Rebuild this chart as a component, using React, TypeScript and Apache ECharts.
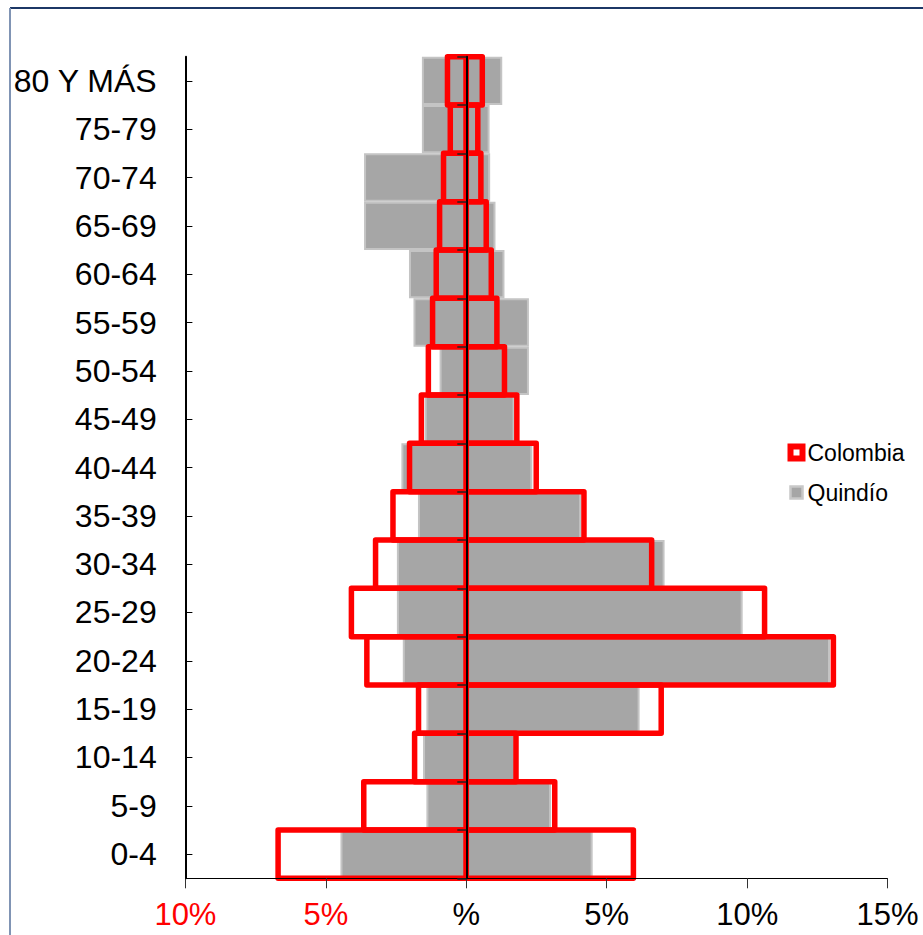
import React, { useEffect, useRef } from "react";
import * as echarts from "echarts";

const categories = [
  "0-4", "5-9", "10-14", "15-19", "20-24", "25-29", "30-34", "35-39", "40-44",
  "45-49", "50-54", "55-59", "60-64", "65-69", "70-74", "75-79", "80 Y MÁS",
];

// Percent of population (left side negative)
const colombiaLeft = [
  -6.7, -3.65, -1.84, -1.7, -3.54, -4.09, -3.23, -2.61, -2.02, -1.6, -1.35, -1.2, -1.07, -0.95, -0.81, -0.57, -0.67,
];
const colombiaRight = [
  5.95, 3.15, 1.77, 6.94, 13.07, 10.62, 6.6, 4.19, 2.49, 1.8, 1.36, 1.09, 0.89, 0.71, 0.52, 0.41, 0.57,
];
const quindioLeft = [
  -4.48, -1.42, -1.54, -1.42, -2.26, -2.47, -2.47, -1.72, -2.31, -1.48, -0.95, -1.88, -2.04, -3.64, -3.64, -1.58, -1.58,
];
const quindioRight = [
  4.5, 3.02, 1.75, 6.17, 12.95, 9.84, 7.06, 4.09, 2.35, 1.72, 2.23, 2.23, 1.36, 1.04, 0.85, 0.83, 1.28,
];

const xMin = -10;
const xMax = 15;
const xInterval = 5;

const FONT = "'Liberation Sans', Arial, sans-serif";

function outlineBar(params: any, api: any) {
  const v = api.value(0);
  const idx = api.value(1);
  const p0 = api.coord([0, idx]);
  const p1 = api.coord([v, idx]);
  const h = api.size([0, 1])[1];
  const x = Math.min(p0[0], p1[0]);
  const w = Math.abs(p1[0] - p0[0]);
  return {
    type: "rect",
    shape: { x, y: p0[1] - h / 2, width: w, height: h },
    style: { fill: "none", stroke: "#ff0000", lineWidth: 5.5, lineJoin: "round" },
  };
}

export default function App() {
  const ref = useRef<HTMLDivElement | null>(null);

  useEffect(() => {
    if (!ref.current) return;
    const chart = echarts.init(ref.current, null, { renderer: "svg" });

    const grayStyle = {
      color: "#a6a6a6",
      borderColor: "#c4c4c4",
      borderWidth: 2,
    };

    const barCommon = {
      type: "bar",
      barGap: "-100%",
      barCategoryGap: "0%",
      xAxisIndex: 0,
      yAxisIndex: 0,
    };

    const customCommon = {
      type: "custom",
      xAxisIndex: 0,
      yAxisIndex: 0,
      encode: { x: 0, y: 1 },
      renderItem: outlineBar,
      z: 3,
      itemStyle: { color: "#ffffff", borderColor: "#ff0000", borderWidth: 6 },
    };

    chart.setOption({
      animation: false,
      backgroundColor: "#ffffff",
      textStyle: { fontFamily: FONT },
      grid: { left: 185.4, right: 35.4, top: 56.7, bottom: 56.7, containLabel: false },
      legend: {
        orient: "vertical",
        left: 782.5,
        top: 436,
        itemWidth: 12,
        itemHeight: 12,
        itemGap: 17,
        selectedMode: false,
        textStyle: { fontFamily: FONT, fontSize: 23, color: "#000", lineHeight: 23 },
        data: [
          {
            name: "Colombia",
            icon: "rect",
            itemStyle: { color: "#ffffff", borderColor: "#ff0000", borderWidth: 6 },
          },
          {
            name: "Quindío",
            icon: "rect",
            itemStyle: { color: "#a6a6a6", borderColor: "#c8c8c8", borderWidth: 2.5 },
          },
        ],
      },
      xAxis: {
        type: "value",
        min: xMin,
        max: xMax,
        interval: xInterval,
        z: 5,
        axisLine: { show: true, onZero: false, lineStyle: { color: "#000", width: 1 } },
        axisTick: { show: true, length: 10, lineStyle: { color: "#333", width: 1 } },
        splitLine: { show: false },
        axisLabel: {
          fontFamily: FONT,
          fontSize: 31,
          margin: 21,
          color: (v: any) => (Number(v) < 0 ? "#ff0000" : "#000000"),
          formatter: (v: number) => (v === 0 ? "%" : Math.abs(v) + "%"),
        },
      },
      yAxis: [
        {
          type: "category",
          data: categories,
          position: "left",
          axisLine: { show: false, onZero: false },
          axisTick: { show: false },
          axisLabel: { fontFamily: FONT, fontSize: 32, color: "#000", margin: 28.7 },
        },
        {
          type: "category",
          data: categories,
          position: "left",
          z: 6,
          axisLine: { show: true, onZero: true, lineStyle: { color: "#000", width: 2 } },
          axisTick: { show: true, length: 9, alignWithLabel: false, lineStyle: { color: "#222", width: 1.5 } },
          axisLabel: { show: false },
        },
        {
          type: "category",
          data: categories,
          position: "left",
          z: 6,
          axisLine: { show: true, onZero: true, lineStyle: { color: "#000", width: 2 } },
          axisTick: { show: true, inside: true, length: 7, alignWithLabel: true, lineStyle: { color: "#000", width: 1 } },
          axisLabel: { show: false },
        },
      ],
      series: [
        { ...barCommon, name: "Quindío", data: quindioLeft, itemStyle: grayStyle },
        { ...barCommon, name: "Quindío", data: quindioRight, itemStyle: grayStyle },
        { ...customCommon, name: "Colombia", data: colombiaLeft.map((v, i) => [v, i]) },
        { ...customCommon, name: "Colombia", data: colombiaRight.map((v, i) => [v, i]) },
      ],
      graphic: [
        {
          type: "line",
          shape: { x1: 10, y1: 8, x2: 923, y2: 8 },
          style: { stroke: "#1c3766", lineWidth: 2 },
          z: 10,
        },
        {
          type: "line",
          shape: { x1: 10, y1: 8, x2: 10, y2: 935 },
          style: { stroke: "#8094b4", lineWidth: 2 },
          z: 10,
        },
      ],
    });

    return () => chart.dispose();
  }, []);

  return (
    <div
      ref={ref}
      style={{ position: "fixed", left: 0, top: 0, width: 923, height: 935, background: "#fff" }}
    />
  );
}
